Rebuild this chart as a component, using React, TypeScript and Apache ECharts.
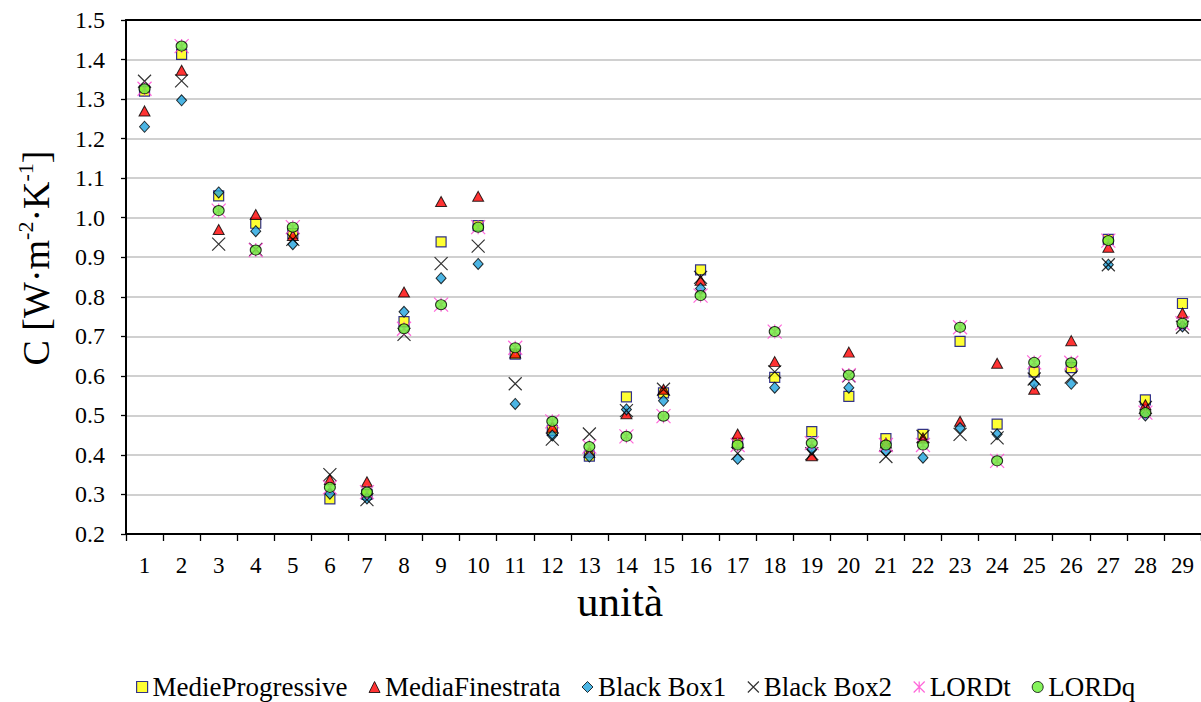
import React, { useEffect, useRef } from "react";
import * as echarts from "echarts";

// Unit numbers along the x axis
const units = [
  "1", "2", "3", "4", "5", "6", "7", "8", "9", "10",
  "11", "12", "13", "14", "15", "16", "17", "18", "19", "20",
  "21", "22", "23", "24", "25", "26", "27", "28", "29",
];

// Conductance C [W·m-2·K-1] estimated by each method, one value per unit
const medieProgressive = [
  1.32, 1.413, 1.055, 0.986, 0.96, 0.289, 0.3, 0.737, 0.939, 0.98,
  0.655, 0.462, 0.397, 0.547, 0.557, 0.868, 0.43, 0.596, 0.459, 0.548,
  0.441, 0.452, 0.687, 0.478, 0.61, 0.621, 0.945, 0.539, 0.783,
];
const mediaFinestrata = [
  1.27, 1.373, 0.97, 1.008, 0.955, 0.338, 0.332, 0.812, 1.041, 1.054,
  0.658, 0.47, 0.407, 0.504, 0.566, 0.842, 0.453, 0.636, 0.398, 0.66,
  0.43, 0.443, 0.485, 0.632, 0.566, 0.689, 0.925, 0.527, 0.759,
];
const blackBox1 = [
  1.23, 1.297, 1.064, 0.966, 0.933, 0.302, 0.29, 0.762, 0.847, 0.883,
  0.529, 0.449, 0.396, 0.515, 0.537, 0.821, 0.39, 0.57, 0.414, 0.57,
  0.41, 0.393, 0.468, 0.452, 0.58, 0.58, 0.881, 0.5, 0.725,
];
const blackBox2 = [
  1.345, 1.346, 0.933, 0.92, 0.945, 0.35, 0.287, 0.705, 0.884, 0.928,
  0.58, 0.44, 0.453, 0.512, 0.566, 0.849, 0.404, 0.61, 0.403, 0.6,
  0.396, 0.447, 0.452, 0.443, 0.592, 0.597, 0.881, 0.52, 0.723,
];
const lordT = [
  1.326, 1.434, 1.018, 0.918, 0.976, 0.318, 0.306, 0.719, 0.78, 0.976,
  0.671, 0.485, 0.421, 0.447, 0.498, 0.803, 0.425, 0.712, 0.43, 0.602,
  0.425, 0.425, 0.723, 0.385, 0.634, 0.633, 0.942, 0.507, 0.733,
];
const lordQ = [
  1.326, 1.434, 1.018, 0.918, 0.976, 0.318, 0.306, 0.719, 0.78, 0.976,
  0.671, 0.485, 0.421, 0.447, 0.498, 0.803, 0.425, 0.712, 0.43, 0.602,
  0.425, 0.425, 0.723, 0.385, 0.634, 0.633, 0.942, 0.507, 0.733,
];

const FONT = "Liberation Serif";

// Stroke-only marker shapes
const crossPath = "path://M0,0L10,10M10,0L0,10";
const starPath = "path://M0,0L10,10M10,0L0,10M5,0L5,10";

const styles = {
  mp: { color: "#FFFF00", borderColor: "#000080", borderWidth: 1.2 },
  mf: { color: "#FF0000", borderColor: "#000000", borderWidth: 1 },
  bb1: { color: "#1FA2DD", borderColor: "#000000", borderWidth: 1 },
  bb2: { color: "transparent", borderColor: "#000000", borderWidth: 1.2 },
  lt: { color: "transparent", borderColor: "#FF40D0", borderWidth: 1.2 },
  lq: { color: "#66F033", borderColor: "#000000", borderWidth: 1 },
};

export default function App() {
  const ref = useRef<HTMLDivElement>(null);

  useEffect(() => {
    if (!ref.current) return;
    const chart = echarts.init(ref.current, undefined, { renderer: "svg" });

    const scatter = (name: string, data: number[], symbol: string, size: any, itemStyle: any) => ({
      name,
      type: "scatter",
      data,
      symbol,
      symbolSize: size,
      itemStyle,
      emphasis: { disabled: true },
    });

    chart.setOption({
      animation: false,
      backgroundColor: "#ffffff",
      textStyle: { fontFamily: FONT },
      grid: { left: 126, right: -2, top: 20, bottom: 168, containLabel: false },
      legend: {
        left: 131,
        top: 668,
        itemGap: 21,
        itemWidth: 11,
        itemHeight: 11,
        textStyle: { fontFamily: FONT, fontSize: 27, lineHeight: 28, color: "#000" },
        data: [
          { name: "MedieProgressive", icon: "rect", itemStyle: styles.mp },
          { name: "MediaFinestrata", icon: "triangle", itemStyle: styles.mf },
          { name: "Black Box1", icon: "diamond", itemStyle: styles.bb1 },
          { name: "Black Box2", icon: crossPath, itemStyle: styles.bb2 },
          { name: "LORDt", icon: starPath, itemStyle: styles.lt },
          { name: "LORDq", icon: "circle", itemStyle: styles.lq },
        ],
      },
      xAxis: [
        {
          type: "category",
          data: units,
          boundaryGap: true,
          axisLine: { show: true, lineStyle: { color: "#000", width: 2 } },
          axisTick: { show: true, length: 7, lineStyle: { color: "#000", width: 1.3 } },
          axisLabel: {
            interval: 0,
            margin: 20,
            fontFamily: FONT,
            fontSize: 23,
            lineHeight: 22,
            color: "#000",
          },
          splitLine: { show: false },
        },
        {
          type: "category",
          position: "top",
          data: units,
          axisLine: { show: true, lineStyle: { color: "#000", width: 2 } },
          axisTick: { show: false },
          axisLabel: { show: false },
          splitLine: { show: false },
        },
      ],
      yAxis: {
        type: "value",
        min: 0.2,
        max: 1.5,
        interval: 0.1,
        axisLine: { show: true, lineStyle: { color: "#000", width: 2 } },
        axisTick: { show: true, length: 5, lineStyle: { color: "#000", width: 1.3 } },
        axisLabel: {
          margin: 21,
          fontFamily: FONT,
          fontSize: 24,
          color: "#000",
          formatter: (v: number) => v.toFixed(1),
        },
        splitLine: { show: true, lineStyle: { color: "#C0C0C0", width: 1.5 } },
      },
      graphic: [
        {
          type: "text",
          x: 36,
          y: 258,
          rotation: Math.PI / 2,
          style: {
            text: "{b|C [W·m}{s|-2}{b|·K}{s|-1}{b|]}",
            align: "center",
            verticalAlign: "middle",
            fill: "#000",
            rich: {
              b: { fontFamily: FONT, fontSize: 38, lineHeight: 44, fill: "#000" },
              s: { fontFamily: FONT, fontSize: 22, verticalAlign: "top", fill: "#000" },
            },
          },
        },
        {
          type: "text",
          x: 620,
          y: 601,
          style: {
            text: "unità",
            fontFamily: FONT,
            fontSize: 43,
            lineHeight: 38,
            align: "center",
            verticalAlign: "middle",
            fill: "#000",
          },
        },
      ],
      series: [
        scatter("MedieProgressive", medieProgressive, "rect", 10, styles.mp),
        scatter("MediaFinestrata", mediaFinestrata, "triangle", [11, 10], styles.mf),
        scatter("Black Box1", blackBox1, "diamond", [10, 11], styles.bb1),
        scatter("Black Box2", blackBox2, crossPath, 13, styles.bb2),
        scatter("LORDt", lordT, starPath, 14, styles.lt),
        scatter("LORDq", lordQ, "circle", [11, 10], styles.lq),
      ],
    });

    return () => chart.dispose();
  }, []);

  return (
    <div
      ref={ref}
      style={{ position: "fixed", left: 0, top: 0, width: 1201, height: 702, background: "#fff" }}
    />
  );
}
